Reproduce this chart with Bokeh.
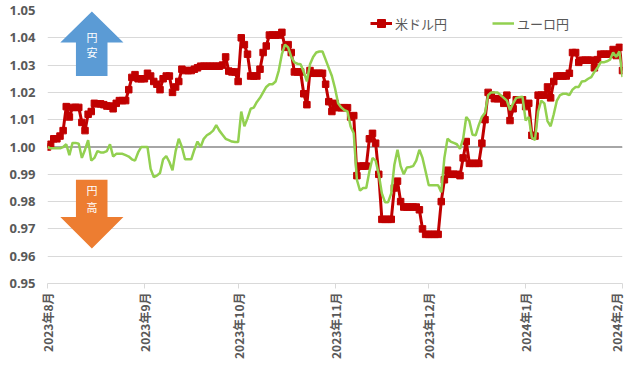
import math
import pandas as pd
from bokeh.plotting import figure
from bokeh.models import Range1d, FixedTicker, Span, Label, ColumnDataSource, NumeralTickFormatter
from bokeh.embed import file_html
from bokeh.resources import INLINE

# ---------------- data ----------------
start_date = "2023-08-01"
series_names = ["米ドル円", "ユーロ円"]

usd_jpy = [
    1.000, 1.001, 1.003, 1.003, 1.004, 1.006, 1.0148, 1.011, 1.0145, 1.0145,
    1.0145, 1.009, 1.006, 1.012, 1.013, 1.016, 1.0158, 1.0158, 1.0155, 1.015,
    1.015, 1.014, 1.016, 1.017, 1.017, 1.017, 1.021, 1.0255, 1.0265, 1.025,
    1.025, 1.025, 1.027, 1.026, 1.024, 1.023, 1.021, 1.025, 1.026, 1.026,
    1.020, 1.022, 1.024, 1.0285, 1.028, 1.028, 1.028, 1.0285, 1.029, 1.0296,
    1.0296, 1.0296, 1.0296, 1.0296, 1.0296, 1.0296, 1.030, 1.033, 1.0278, 1.0275,
    1.0275, 1.024, 1.040, 1.0375, 1.034, 1.026, 1.026, 1.026, 1.0285, 1.0346,
    1.037, 1.041, 1.041, 1.041, 1.041, 1.042, 1.0365, 1.0375, 1.0346, 1.0275,
    1.0275, 1.0275, 1.0195, 1.0155, 1.028, 1.027, 1.027, 1.027, 1.027, 1.023,
    1.0166, 1.013, 1.016, 1.0144, 1.0144, 1.0144, 1.0144, 1.011, 1.0115, 0.9895,
    0.993, 0.993, 0.993, 1.003, 1.005, 1.0014, 0.990, 0.9735, 0.9735, 0.9735,
    0.9735, 0.985, 0.9875, 0.980, 0.978, 0.978, 0.978, 0.978, 0.978, 0.977,
    0.970, 0.968, 0.968, 0.968, 0.968, 0.968, 0.980, 0.988, 0.9915, 0.990,
    0.990, 0.990, 0.9895, 0.996, 1.002, 0.994, 0.994, 0.994, 0.994, 1.0014,
    1.010, 1.020, 1.019, 1.0177, 1.0177, 1.0177, 1.016, 1.019, 1.0097, 1.014,
    1.0173, 1.0173, 1.0173, 1.0148, 1.016, 1.0043, 1.004, 1.019, 1.019, 1.019,
    1.022, 1.018, 1.024, 1.026, 1.026, 1.026, 1.026, 1.027, 1.0346, 1.0346,
    1.031, 1.0318, 1.0318, 1.0318, 1.0318, 1.029, 1.032, 1.034, 1.034, 1.034,
    1.034, 1.0357, 1.0335, 1.0365, 1.028,
]

eur_jpy = [
    1.000, 0.9995, 0.9995, 0.9995, 0.9995, 1.000, 1.001, 0.997, 1.0015, 1.0015,
    1.0012, 0.996, 0.999, 1.0025, 0.995, 0.996, 0.9985, 0.998, 0.998, 0.9985,
    1.001, 0.9965, 0.9975, 0.9975, 0.9975, 0.997, 0.9965, 0.9955, 0.995, 0.998,
    1.000, 1.000, 1.000, 0.992, 0.989, 0.9895, 0.9905, 0.9955, 0.9967, 0.9945,
    0.9915, 0.9985, 1.003, 1.000, 0.9955, 0.9955, 0.9955, 0.999, 1.002, 1.000,
    1.003, 1.0043, 1.005, 1.006, 1.008, 1.006, 1.0045, 1.003, 1.0025, 1.002,
    1.0018, 1.0018, 1.013, 1.0076, 1.0105, 1.014, 1.0144, 1.0165, 1.018, 1.020,
    1.022, 1.023, 1.023, 1.024, 1.028, 1.034, 1.0375, 1.0365, 1.033, 1.031,
    1.0305, 1.0303, 1.0275, 1.024, 1.0303, 1.033, 1.0346, 1.035, 1.035, 1.032,
    1.029, 1.026, 1.0215, 1.016, 1.0145, 1.0135, 1.013, 1.0075, 1.005, 0.988,
    0.984, 0.985, 0.985, 0.991, 0.996, 0.995, 0.990, 0.983, 0.9798, 0.9798,
    0.983, 0.9935, 0.999, 0.993, 0.990, 0.9925, 0.9927, 0.993, 0.995, 0.999,
    0.996, 0.991, 0.986, 0.986, 0.986, 0.986, 0.9834, 0.996, 1.003, 1.002,
    1.0015, 1.001, 0.9993, 1.003, 1.011, 1.0095, 1.0045, 1.0043, 1.008, 1.011,
    1.0125, 1.019, 1.020, 1.020, 1.020, 1.019, 1.018, 1.017, 1.0135, 1.016,
    1.018, 1.0182, 1.0184, 1.0097, 1.011, 1.0035, 1.0025, 1.013, 1.017, 1.016,
    1.0095, 1.0076, 1.012, 1.017, 1.019, 1.0195, 1.0195, 1.019, 1.021, 1.022,
    1.022, 1.024, 1.0242, 1.025, 1.0256, 1.0275, 1.029, 1.031, 1.031, 1.0314,
    1.032, 1.0346, 1.033, 1.035, 1.0256,
]

month_ticks = ["2023-08-01", "2023-09-01", "2023-10-01", "2023-11-01",
               "2023-12-01", "2024-01-01", "2024-02-01"]
month_labels = ["2023年8月", "2023年9月", "2023年10月", "2023年11月",
                "2023年12月", "2024年1月", "2024年2月"]
y_ticks = [0.95, 0.96, 0.97, 0.98, 0.99, 1.00, 1.01, 1.02, 1.03, 1.04, 1.05]
baseline = 1.00
arrow_up_text = ["円", "安"]
arrow_down_text = ["円", "高"]

# ---------------- build ----------------
dates = pd.date_range(start_date, periods=len(usd_jpy), freq="D")
src = ColumnDataSource(dict(date=dates, usd=usd_jpy, eur=eur_jpy))

def ms(s):
    return int(pd.Timestamp(s).value // 10**6)

tick_ms = [ms(t) for t in month_ticks]
t0 = ms(start_date)
DAY = 86400000

p = figure(width=624, height=361, x_axis_type="datetime",
           output_backend="svg", toolbar_location=None,
           x_range=Range1d(tick_ms[0], tick_ms[-1]),
           y_range=Range1d(y_ticks[0], y_ticks[-1]),
           min_border_left=47, min_border_right=2,
           min_border_top=10, min_border_bottom=78)
p.outline_line_color = None
p.background_fill_color = "white"
p.xgrid.grid_line_color = None
p.ygrid.grid_line_color = "#d9d9d9"
p.ygrid.grid_line_width = 1

# y axis
p.yaxis.ticker = FixedTicker(ticks=y_ticks)
p.yaxis.formatter = NumeralTickFormatter(format="0.00")
p.yaxis.axis_line_color = None
p.yaxis.major_tick_line_color = None
p.yaxis.minor_tick_line_color = None
p.yaxis.major_tick_out = 0
p.yaxis.major_tick_in = 0
p.yaxis.major_label_text_font = "Open Sans"
p.yaxis.major_label_text_font_style = "bold"
p.yaxis.major_label_text_font_size = "13px"
p.yaxis.major_label_text_color = "#595959"
p.yaxis.major_label_standoff = 12

# x axis
p.xaxis.ticker = FixedTicker(ticks=tick_ms)
p.xaxis.major_label_overrides = {t: lab for t, lab in zip(tick_ms, month_labels)}
p.xaxis.major_label_orientation = math.pi / 2
p.xaxis.major_label_text_font = "Noto Sans CJK JP"
p.xaxis.major_label_text_font_style = "bold"
p.xaxis.major_label_text_font_size = "12px"
p.xaxis.major_label_text_color = "#595959"
p.xaxis.axis_line_color = "#d9d9d9"
p.xaxis.major_tick_line_color = "#d9d9d9"
p.xaxis.major_tick_out = 5
p.xaxis.major_tick_in = 0
p.xaxis.minor_tick_line_color = None
p.xaxis.major_label_standoff = 4

# baseline at 1.00
span = Span(location=baseline, dimension="width", line_color="#a6a6a6",
            line_width=2, level="underlay")
p.add_layout(span)

# arrows (decorations)
def d2ms(d):
    return t0 + d * DAY

up_x = [d2ms(v) for v in (14.2, 24.3, 19.2, 19.2, 9.1, 9.1, 4.1)]
up_y = [1.0496, 1.0383, 1.0383, 1.026, 1.026, 1.0383, 1.0383]
p.patch(up_x, up_y, fill_color="#5b9bd5", line_color=None)
dn_x = [d2ms(v) for v in (9.1, 19.2, 19.2, 24.3, 14.2, 4.1, 9.1)]
dn_y = [0.988, 0.988, 0.9744, 0.9744, 0.9628, 0.9744, 0.9744]
p.patch(dn_x, dn_y, fill_color="#ed7d31", line_color=None)

for txt, yv in zip(arrow_up_text, (1.0404, 1.0347)):
    p.add_layout(Label(x=d2ms(14.2), y=yv, text=txt, text_color="white",
                       text_font="Noto Sans CJK JP", text_font_size="11px",
                       text_align="center", text_baseline="middle"))
for txt, yv in zip(arrow_down_text, (0.9841, 0.978)):
    p.add_layout(Label(x=d2ms(14.2), y=yv, text=txt, text_color="white",
                       text_font="Noto Sans CJK JP", text_font_size="11px",
                       text_align="center", text_baseline="middle"))

# series
p.line("date", "usd", source=src, line_color="#c00000", line_width=3,
       legend_label=series_names[0])
p.scatter("date", "usd", source=src, marker="square", size=6.5,
          fill_color="#c00000", line_color="#c00000",
          legend_label=series_names[0])
p.line("date", "eur", source=src, line_color="#92d050", line_width=2.5,
       legend_label=series_names[1])

lg = p.legend[0]
lg.orientation = "horizontal"
lg.location = (323, 250)
lg.label_text_font = "Noto Sans CJK JP"
lg.label_text_font_size = "13px"
lg.label_text_color = "#595959"
lg.background_fill_alpha = 0
lg.border_line_color = None
lg.padding = 0
lg.margin = 0
lg.spacing = 45
lg.glyph_width = 22
lg.label_standoff = 3

open("out.html", "w").write(file_html(p, INLINE))
